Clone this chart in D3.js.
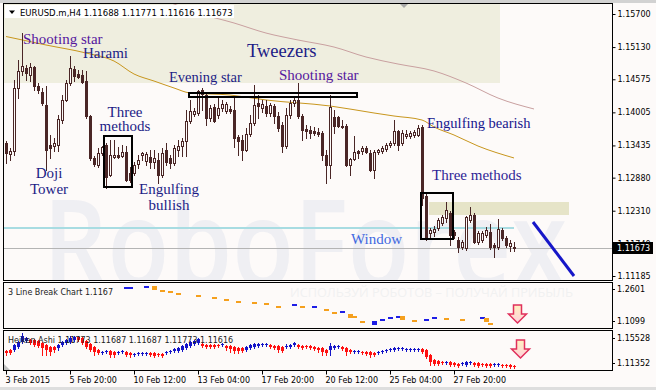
<!DOCTYPE html>
<html>
<head>
<meta charset="utf-8">
<script src="https://cdn.jsdelivr.net/npm/d3@7"></script>
<style>
body { margin: 0; background: #fdfaf9; }
svg { display: block; }
</style>
</head>
<body>
<svg id="chart" width="656" height="390"></svg>
<script>
// EURUSD.m H4 candles
var openP = [
1.13477,1.13287,1.13339,1.14425,1.14718,1.14770,1.14649,1.14787,1.14459,1.14356,
1.14132,1.13442,1.13425,1.13442,1.13873,1.14218,1.14511,1.14752,1.14666,1.14649,
1.14545,1.13942,1.13218,1.13098,1.13304,1.13442,1.12925,1.13235,1.13270,1.13253,
1.13322,1.12960,1.12960,1.13115,1.13270,1.13166,1.13235,1.13149,1.13184,1.12925,
1.13356,1.13218,1.13132,1.13356,1.13425,1.13511,1.13856,1.13977,1.13994,1.14390,
1.14304,1.13908,1.14097,1.13959,1.14080,1.14028,1.14063,1.14046,1.13580,1.13528,
1.13356,1.13632,1.13822,1.14166,1.14080,1.14115,1.13994,1.14115,1.13942,1.13787,
1.13425,1.13959,1.14166,1.14218,1.13942,1.13718,1.13701,1.13684,1.13666,1.13649,
1.13270,1.13098,1.13925,1.13925,1.13770,1.13770,1.13098,1.13201,1.13339,1.13339,
1.13391,1.13304,1.13011,1.13322,1.13339,1.13373,1.13442,1.13477,1.13684,1.13477,
1.13597,1.13597,1.13615,1.13615,1.13753,1.12563,1.11925,1.11942,1.12011,1.12098,
1.12184,1.12270,1.11942,1.11804,1.11684,1.11666,1.12149,1.12236,1.11770,1.11804,
1.11890,1.11942,1.11718,1.11684,1.11977,1.11839,1.11701,1.11688];
var highP = [
1.13511,1.13391,1.14563,1.14907,1.15372,1.14821,1.14855,1.14804,1.14511,1.14425,
1.14459,1.13615,1.13563,1.13959,1.14304,1.14563,1.14977,1.14804,1.14735,1.14735,
1.14718,1.13959,1.13253,1.13391,1.13425,1.13477,1.13528,1.13528,1.13408,1.13442,
1.13425,1.13063,1.13149,1.13270,1.13322,1.13322,1.13356,1.13356,1.13304,1.13391,
1.13477,1.13270,1.13442,1.13528,1.13563,1.14046,1.14218,1.14080,1.14390,1.14425,
1.14339,1.14132,1.14149,1.14252,1.14218,1.14184,1.14115,1.14252,1.13615,1.13615,
1.13735,1.13959,1.14477,1.14304,1.14218,1.14218,1.14166,1.14149,1.14011,1.13839,
1.14080,1.14218,1.14287,1.14511,1.13977,1.13787,1.13770,1.13753,1.13735,1.13684,
1.13356,1.14304,1.14046,1.13942,1.13873,1.13804,1.13218,1.13597,1.13356,1.13425,
1.13425,1.13356,1.13356,1.13373,1.13425,1.13477,1.13511,1.13873,1.13701,1.13701,
1.13701,1.13684,1.13701,1.13787,1.13787,1.12615,1.12011,1.12046,1.12184,1.12236,
1.12460,1.12305,1.11977,1.11856,1.11804,1.12218,1.12374,1.12270,1.11960,1.11960,
1.12029,1.12080,1.11753,1.12167,1.12011,1.11873,1.11804,1.11771];
var lowP = [
1.13132,1.13184,1.13270,1.14252,1.14649,1.14563,1.14545,1.14390,1.14339,1.14132,
1.13011,1.13218,1.13339,1.13339,1.13822,1.14201,1.14477,1.14545,1.14597,1.14511,
1.13908,1.13184,1.13080,1.13063,1.13270,1.12701,1.12908,1.13218,1.13218,1.13235,
1.12822,1.12804,1.12925,1.13046,1.13184,1.13098,1.13046,1.13046,1.12787,1.12891,
1.13098,1.13046,1.13098,1.13253,1.13253,1.13253,1.13822,1.13942,1.13959,1.14046,
1.13787,1.13856,1.13839,1.13908,1.14028,1.13994,1.13994,1.13408,1.13270,1.13184,
1.13339,1.13597,1.13787,1.13908,1.14011,1.13942,1.13942,1.13822,1.13684,1.13322,
1.13391,1.13908,1.14115,1.13908,1.13528,1.13563,1.13563,1.13615,1.13597,1.13184,
1.12787,1.12873,1.13649,1.13753,1.13735,1.13080,1.12925,1.13184,1.13218,1.13287,
1.13304,1.12994,1.12873,1.13287,1.13304,1.13339,1.13408,1.13442,1.13356,1.13442,
1.13563,1.13563,1.13580,1.13597,1.12408,1.11804,1.11839,1.11873,1.11977,1.12063,
1.12115,1.11718,1.11839,1.11597,1.11649,1.11632,1.12115,1.11753,1.11735,1.11770,
1.11856,1.11649,1.11511,1.11649,1.11804,1.11684,1.11615,1.11616];
var closeP = [
1.13304,1.13339,1.14425,1.14718,1.14804,1.14683,1.14787,1.14459,1.14390,1.14166,
1.13356,1.13391,1.13477,1.13890,1.14218,1.14511,1.14770,1.14632,1.14614,1.14528,
1.13942,1.13218,1.13115,1.13304,1.13408,1.12891,1.13270,1.13270,1.13235,1.13322,
1.12839,1.12839,1.13098,1.13184,1.13304,1.13287,1.13149,1.13218,1.12925,1.13304,
1.13149,1.13132,1.13391,1.13425,1.13511,1.13856,1.14028,1.14028,1.14373,1.14321,
1.13908,1.14080,1.13856,1.14080,1.14149,1.14149,1.14028,1.13563,1.13511,1.13356,
1.13632,1.13822,1.14132,1.14115,1.14149,1.13994,1.14132,1.13942,1.13735,1.13425,
1.13959,1.14166,1.14218,1.13942,1.13701,1.13684,1.13649,1.13649,1.13632,1.13270,
1.13098,1.14097,1.13770,1.13770,1.13753,1.13098,1.13201,1.13322,1.13304,1.13391,
1.13322,1.13011,1.13322,1.13356,1.13391,1.13442,1.13477,1.13684,1.13442,1.13649,
1.13632,1.13649,1.13666,1.13735,1.12529,1.11856,1.11977,1.11994,1.12149,1.12201,
1.12322,1.11890,1.11890,1.11684,1.11770,1.12201,1.12236,1.11770,1.11925,1.11925,
1.11977,1.11684,1.11684,1.11994,1.11839,1.11718,1.11753,1.11673];

// moving averages (bar index, value)
var maFastIdx = [0,10,20,27,32,37,42,46,56,65,81,92,97,104,107,112,118,127];
var maFast = [1.15312,1.15166,1.15028,1.14890,1.14666,1.14545,1.14425,1.14339,1.14304,
              1.14218,1.14115,1.13994,1.13942,1.13873,1.13753,1.13615,1.13425,1.13219];
var maSlowIdx = [39,48,57,65,73,82,90,98,107,115,123,132];
var maSlow = [1.15958,1.15717,1.15545,1.15372,1.15252,1.15131,1.14959,1.14838,1.14718,1.14511,1.14252,1.14063];

var priceTicks = [1.15700,1.15130,1.14575,1.14005,1.13435,1.12880,1.12310,1.11740,1.11185];
var timeTickIdx = [0,16,32,48,64,80,96,112];
var timeTickLabels = ["3 Feb 2015","5 Feb 20:00","10 Feb 12:00","13 Feb 04:00",
                      "17 Feb 20:00","20 Feb 12:00","25 Feb 04:00","27 Feb 20:00"];
var lastPrice = 1.11673;
var windowLevel = 1.12011;

// 3 Line Break bricks
var lbIdx = [30,31,35,37,39,41,43,48,52,55,58,62,65,68,72,74,77,80,82,84,86,87,89,92,94,96,98,99,102,105,107,110,114,119,120,121];
var lbOpen = [1.2396,1.2396,1.2430,1.2499,1.2362,1.2328,1.2260,1.2191,1.2123,1.2055,1.1986,1.1952,1.1918,1.1816,
              1.1816,1.1816,1.1747,1.1713,1.1611,1.1577,1.1543,1.1474,1.1304,1.1167,1.1304,1.1372,1.1406,1.1474,
              1.1338,1.1304,1.1372,1.1406,1.1372,1.1372,1.1406,1.1236];
var lbClose = [1.2464,1.2464,1.2499,1.2362,1.2294,1.2260,1.2191,1.2123,1.2055,1.1986,1.1918,1.1884,1.1850,1.1747,
               1.1884,1.1747,1.1816,1.1645,1.1543,1.1645,1.1406,1.1406,1.1236,1.1304,1.1372,1.1440,1.1474,1.1338,
               1.1270,1.1372,1.1440,1.1338,1.1304,1.1440,1.1270,1.1167];
var lbAxis = [1.2601, 1.1099];

// Heiken Ashi
var haOpen = [
1.1339,1.1349,1.1349,1.1382,1.1435,1.1446,1.1456,1.1456,1.1446,1.1424,
1.1403,1.1382,1.1382,1.1371,1.1403,1.1424,1.1435,1.1456,1.1489,1.1478,
1.1446,1.1414,1.1382,1.1349,1.1317,1.1328,1.1339,1.1328,1.1317,1.1328,
1.1328,1.1317,1.1296,1.1307,1.1307,1.1307,1.1317,1.1317,1.1307,1.1307,
1.1317,1.1328,1.1339,1.1339,1.1349,1.1371,1.1392,1.1414,1.1424,1.1414,
1.1403,1.1403,1.1403,1.1403,1.1403,1.1392,1.1392,1.1382,1.1371,1.1371,
1.1349,1.1371,1.1382,1.1392,1.1403,1.1403,1.1403,1.1392,1.1392,1.1382,
1.1382,1.1382,1.1403,1.1403,1.1392,1.1392,1.1392,1.1382,1.1371,1.1371,
1.1349,1.1349,1.1371,1.1382,1.1382,1.1371,1.1349,1.1328,1.1328,1.1328,
1.1328,1.1328,1.1317,1.1317,1.1328,1.1339,1.1349,1.1349,1.1360,1.1360,
1.1349,1.1349,1.1349,1.1349,1.1360,1.1349,1.1296,1.1242,1.1231,1.1221,
1.1210,1.1221,1.1210,1.1199,1.1199,1.1189,1.1210,1.1210,1.1210,1.1199,
1.1199,1.1199,1.1189,1.1189,1.1189,1.1189,1.1189,1.1178];
var haClose = [
1.1317,1.1317,1.1403,1.1435,1.1499,1.1478,1.1424,1.1403,1.1392,1.1371,
1.1349,1.1328,1.1349,1.1403,1.1435,1.1456,1.1478,1.1489,1.1456,1.1424,
1.1382,1.1349,1.1328,1.1317,1.1328,1.1339,1.1296,1.1296,1.1328,1.1339,
1.1296,1.1296,1.1307,1.1317,1.1317,1.1317,1.1296,1.1285,1.1296,1.1285,
1.1328,1.1339,1.1360,1.1371,1.1392,1.1414,1.1435,1.1446,1.1467,1.1392,
1.1382,1.1382,1.1382,1.1392,1.1414,1.1371,1.1360,1.1339,1.1339,1.1339,
1.1382,1.1403,1.1414,1.1414,1.1414,1.1414,1.1382,1.1371,1.1349,1.1339,
1.1392,1.1403,1.1424,1.1382,1.1371,1.1382,1.1371,1.1360,1.1349,1.1328,
1.1317,1.1392,1.1392,1.1392,1.1360,1.1328,1.1328,1.1339,1.1339,1.1317,
1.1307,1.1296,1.1296,1.1328,1.1339,1.1349,1.1360,1.1371,1.1371,1.1371,
1.1360,1.1360,1.1360,1.1360,1.1328,1.1274,1.1221,1.1199,1.1199,1.1210,
1.1221,1.1189,1.1189,1.1178,1.1210,1.1221,1.1221,1.1189,1.1178,1.1189,
1.1178,1.1178,1.1199,1.1199,1.1178,1.1178,1.1167,1.1167];
var haHigh = [
1.1349,1.1360,1.1414,1.1446,1.1531,1.1489,1.1467,1.1467,1.1456,1.1435,
1.1414,1.1392,1.1392,1.1414,1.1446,1.1467,1.1499,1.1499,1.1499,1.1489,
1.1456,1.1424,1.1392,1.1360,1.1339,1.1349,1.1349,1.1339,1.1339,1.1349,
1.1339,1.1328,1.1317,1.1328,1.1328,1.1328,1.1328,1.1328,1.1317,1.1317,
1.1339,1.1349,1.1371,1.1382,1.1403,1.1424,1.1446,1.1456,1.1478,1.1424,
1.1414,1.1414,1.1414,1.1414,1.1424,1.1403,1.1403,1.1392,1.1382,1.1382,
1.1392,1.1414,1.1424,1.1424,1.1424,1.1424,1.1414,1.1403,1.1403,1.1392,
1.1414,1.1414,1.1435,1.1414,1.1403,1.1403,1.1403,1.1392,1.1382,1.1382,
1.1360,1.1424,1.1403,1.1403,1.1392,1.1382,1.1360,1.1349,1.1349,1.1339,
1.1339,1.1339,1.1328,1.1339,1.1349,1.1360,1.1371,1.1382,1.1382,1.1382,
1.1371,1.1371,1.1371,1.1371,1.1371,1.1360,1.1307,1.1253,1.1242,1.1231,
1.1231,1.1231,1.1221,1.1210,1.1221,1.1231,1.1231,1.1221,1.1221,1.1210,
1.1210,1.1210,1.1210,1.1210,1.1199,1.1199,1.1199,1.1189];
var haLow = [
1.1296,1.1307,1.1339,1.1371,1.1424,1.1435,1.1414,1.1392,1.1382,1.1296,
1.1296,1.1296,1.1328,1.1349,1.1392,1.1414,1.1424,1.1446,1.1446,1.1414,
1.1371,1.1339,1.1296,1.1307,1.1307,1.1317,1.1274,1.1274,1.1307,1.1317,
1.1285,1.1274,1.1285,1.1296,1.1296,1.1296,1.1285,1.1274,1.1285,1.1274,
1.1307,1.1317,1.1328,1.1328,1.1339,1.1360,1.1382,1.1403,1.1414,1.1382,
1.1371,1.1371,1.1371,1.1382,1.1392,1.1349,1.1328,1.1317,1.1317,1.1328,
1.1339,1.1360,1.1371,1.1382,1.1392,1.1392,1.1371,1.1360,1.1328,1.1328,
1.1371,1.1371,1.1392,1.1371,1.1360,1.1371,1.1360,1.1349,1.1328,1.1296,
1.1296,1.1296,1.1360,1.1371,1.1349,1.1296,1.1317,1.1317,1.1317,1.1307,
1.1296,1.1274,1.1285,1.1307,1.1317,1.1328,1.1339,1.1339,1.1349,1.1349,
1.1339,1.1339,1.1339,1.1339,1.1317,1.1264,1.1189,1.1189,1.1189,1.1199,
1.1199,1.1178,1.1178,1.1167,1.1189,1.1178,1.1199,1.1178,1.1167,1.1178,
1.1167,1.1167,1.1178,1.1178,1.1167,1.1167,1.1157,1.1157];
var haAxis = [1.15528, 1.11352];

// ---------------------------------------------------------------
var BG = "#fdfaf9";
var CANDLE = "#4a2626";
var NAVY = "#1c1c86";
var PURPLE = "#55169e";
var AXIS_FONT = "'DejaVu Sans', sans-serif";
var SERIF = "'Liberation Serif', 'Times New Roman', serif";

var svg = d3.select("#chart");

var x = d3.scaleLinear().domain([0, 127]).range([6, 514]);
var y = d3.scaleLinear().domain([1.11185, 1.15700]).range([276, 14]);
var yLB = d3.scaleLinear().domain([1.1099, 1.2601]).range([327, 283]);
var yHA = d3.scaleLinear().domain([1.11352, 1.15528]).range([370, 331]);

function px(v) { return Math.round(v); }

// 背景与边框
svg.append("rect").attr("width", 656).attr("height", 390).attr("fill", BG);
svg.append("rect").attr("width", 656).attr("height", 3).attr("fill", "#d2d2d2");
svg.append("rect").attr("y", 387).attr("width", 656).attr("height", 3).attr("fill", "#dedede");

var defs = svg.append("defs");
function gb_clip(id, x0, y0, w, h) {
	defs.append("clipPath").attr("id", id)
		.append("rect").attr("x", x0).attr("y", y0).attr("width", w).attr("height", h);
}
gb_clip("clipMain", 4, 4, 608, 276);
gb_clip("clipLB", 4, 283, 608, 45);
gb_clip("clipHA", 4, 331, 608, 39);

var grad = defs.append("linearGradient").attr("id", "arrowFill")
	.attr("x1", 0).attr("y1", 0).attr("x2", 0).attr("y2", 1);
grad.append("stop").attr("offset", "0%").attr("stop-color", "#fff0c0");
grad.append("stop").attr("offset", "100%").attr("stop-color", "#ffd0dc");

var main = svg.append("g").attr("clip-path", "url(#clipMain)");

// shaded zones
var zones = [
	{ i0: -1, i1: 123.5, p0: 1.1600, p1: 1.14511, fill: "#efeedf" },
	{ i0: 105.75, i1: 140.75, p0: 1.12461, p1: 1.12237, fill: "#e6e4c8" }
];
main.selectAll("rect.zone").data(zones).enter().append("rect")
	.attr("class", "zone")
	.attr("x", function (d) { return px(x(d.i0)); })
	.attr("y", function (d) { return px(y(d.p0)); })
	.attr("width", function (d) { return px(x(d.i1)) - px(x(d.i0)); })
	.attr("height", function (d) { return px(y(d.p1)) - px(y(d.p0)); })
	.attr("fill", function (d) { return d.fill; });

// watermark
main.append("text")
	.attr("x", 43).attr("y", 288)
	.attr("font-family", "'Open Sans', sans-serif")
	.attr("font-weight", 600)
	.attr("font-size", 123)
	.attr("textLength", 524).attr("lengthAdjust", "spacingAndGlyphs")
	.attr("fill", "#efeff3")
	.text("RoboForex");

// moving averages
var lineGen = d3.line()
	.x(function (d) { return x(d.i); })
	.y(function (d) { return y(d.v); })
	.curve(d3.curveMonotoneX);
var slowPts = maSlowIdx.map(function (d, k) { return { i: d, v: maSlow[k] }; });
var fastPts = maFastIdx.map(function (d, k) { return { i: d, v: maFast[k] }; });
main.append("path").attr("d", lineGen(slowPts))
	.attr("fill", "none").attr("stroke", "#c9a0a0").attr("stroke-width", 1);
main.append("path").attr("d", lineGen(fastPts))
	.attr("fill", "none").attr("stroke", "#c8961e").attr("stroke-width", 1);

// current price line and window level
main.append("line")
	.attr("x1", 4).attr("x2", 612)
	.attr("y1", px(y(lastPrice)) + 0.5).attr("y2", px(y(lastPrice)) + 0.5)
	.attr("stroke", "#b4b4b4").attr("stroke-width", 1);
main.append("line")
	.attr("x1", 4).attr("x2", x(127))
	.attr("y1", px(y(windowLevel))).attr("y2", px(y(windowLevel)))
	.attr("stroke", "#a8dce2").attr("stroke-width", 2);

// 蜡烛
var candles = d3.range(openP.length).map(function (i) {
	return { i: i, o: openP[i], h: highP[i], l: lowP[i], c: closeP[i] };
});
var gC = main.append("g");
gC.selectAll("line").data(candles).enter().append("line")
	.attr("x1", function (d) { return px(x(d.i)) + 0.5; })
	.attr("x2", function (d) { return px(x(d.i)) + 0.5; })
	.attr("y1", function (d) { return px(y(d.h)); })
	.attr("y2", function (d) { return px(y(d.l)) + 1; })
	.attr("stroke", CANDLE).attr("stroke-width", 1);
gC.selectAll("rect").data(candles).enter().append("rect")
	.attr("x", function (d) {
		return d.c > d.o ? px(x(d.i)) - 0.5 : px(x(d.i)) - 1;
	})
	.attr("y", function (d) {
		var top = px(y(Math.max(d.o, d.c)));
		return d.c > d.o ? top + 0.5 : top;
	})
	.attr("width", function (d) { return d.c > d.o ? 2 : 3; })
	.attr("height", function (d) {
		var h = px(y(Math.min(d.o, d.c))) - px(y(Math.max(d.o, d.c)));
		return d.c > d.o ? Math.max(1, h) : Math.max(1, h + 1);
	})
	.attr("fill", function (d) { return d.c > d.o ? BG : CANDLE; })
	.attr("stroke", function (d) { return d.c > d.o ? CANDLE : "none"; })
	.attr("stroke-width", 1);

// pattern boxes
var boxes = [
	{ i0: 24.5, i1: 31.5, p0: 1.13597, p1: 1.12713 },
	{ i0: 45.75, i1: 87.75, p0: 1.14339, p1: 1.14270 },
	{ i0: 103.75, i1: 111.75, p0: 1.12615, p1: 1.11821 }
];
main.selectAll("rect.box").data(boxes).enter().append("rect")
	.attr("class", "box")
	.attr("x", function (d) { return px(x(d.i0)); })
	.attr("y", function (d) { return px(y(d.p0)); })
	.attr("width", function (d) { return px(x(d.i1)) - px(x(d.i0)); })
	.attr("height", function (d) { return px(y(d.p1)) - px(y(d.p0)); })
	.attr("fill", "none").attr("stroke", "#000").attr("stroke-width", 2);

// trend line
var trend = [{ i: 131.75, v: 1.12116 }, { i: 142, v: 1.11185 }];
main.append("line")
	.attr("x1", x(trend[0].i)).attr("y1", y(trend[0].v))
	.attr("x2", x(trend[1].i)).attr("y2", y(trend[1].v))
	.attr("stroke", "#1616c8").attr("stroke-width", 3);

// annotations
var notes = [
	{ t: "Shooting star", x: 23, y: 44, s: 15, c: PURPLE },
	{ t: "Harami", x: 83, y: 58, s: 15, c: NAVY },
	{ t: "Three", x: 125, y: 117, s: 15, c: NAVY, a: "middle" },
	{ t: "methods", x: 125, y: 131, s: 15, c: NAVY, a: "middle" },
	{ t: "Doji", x: 49, y: 178, s: 15, c: NAVY, a: "middle" },
	{ t: "Tower", x: 49, y: 194, s: 15, c: NAVY, a: "middle" },
	{ t: "Engulfing", x: 169, y: 194, s: 15, c: NAVY, a: "middle" },
	{ t: "bullish", x: 169, y: 210, s: 15, c: NAVY, a: "middle" },
	{ t: "Evening star", x: 169, y: 82, s: 14.5, c: NAVY },
	{ t: "Tweezers", x: 247, y: 57, s: 18.5, c: NAVY },
	{ t: "Shooting star", x: 279, y: 80, s: 15, c: PURPLE },
	{ t: "Engulfing bearish", x: 427, y: 128, s: 14.5, c: "#16168e" },
	{ t: "Three methods", x: 432, y: 180, s: 15, c: "#2e1f96" },
	{ t: "Window", x: 351, y: 244, s: 15, c: "#4169e1" }
];
main.selectAll("text.note").data(notes).enter().append("text")
	.attr("class", "note")
	.attr("x", function (d) { return d.x; })
	.attr("y", function (d) { return d.y; })
	.attr("text-anchor", function (d) { return d.a || "start"; })
	.attr("font-family", SERIF)
	.attr("font-size", function (d) { return d.s; })
	.attr("fill", function (d) { return d.c; })
	.text(function (d) { return d.t; });

// header
svg.append("rect").attr("x", 5).attr("y", 5).attr("width", 229).attr("height", 13).attr("fill", "#fff");
svg.append("path").attr("d", "M9,10.5 L15,10.5 L12,14 Z").attr("fill", "#000");
svg.append("text").attr("x", 20).attr("y", 15.5)
	.attr("font-family", AXIS_FONT).attr("font-size", 8.5).attr("fill", "#000")
	.text("EURUSD.m,H4  1.11688 1.11771 1.11616 1.11673");
svg.append("path").attr("d", "M400,4 L408,4 L404,8 Z").attr("fill", "#a8a8a8");

// 3 Line Break panel
var gLB = svg.append("g").attr("clip-path", "url(#clipLB)");
gLB.append("text")
	.attr("x", 290).attr("y", 297)
	.attr("font-family", "'Open Sans', sans-serif").attr("font-size", 13)
	.attr("textLength", 283).attr("lengthAdjust", "spacingAndGlyphs")
	.attr("fill", "#f1f1f1")
	.text("ИСПОЛЬЗУЙ РОБОТОВ – ПОЛУЧАЙ ПРИБЫЛЬ");
var bricks = lbIdx.map(function (d, k) { return { i: d, o: lbOpen[k], c: lbClose[k] }; });
gLB.selectAll("rect").data(bricks).enter().append("rect")
	.attr("x", function (d) { return px(x(d.i)) - 2; })
	.attr("width", 5)
	.attr("y", function (d) { return px(yLB(Math.max(d.o, d.c))); })
	.attr("height", function (d) {
		return Math.max(2, px(yLB(Math.min(d.o, d.c))) - px(yLB(Math.max(d.o, d.c))));
	})
	.attr("fill", function (d) { return d.c > d.o ? "#1e1ee6" : "#f5a01e"; });
gLB.append("text").attr("x", 8).attr("y", 295)
	.attr("font-family", AXIS_FONT).attr("font-size", 8).attr("fill", "#222")
	.text("3 Line Break Chart 1.1167");

// Heiken Ashi panel
var gHA = svg.append("g").attr("clip-path", "url(#clipHA)");
var ha = d3.range(haOpen.length).map(function (i) {
	return { i: i, o: haOpen[i], c: haClose[i], h: haHigh[i], l: haLow[i] };
});
function haCol(d) { return d.c > d.o ? "#1414c8" : "#ff1010"; }
gHA.selectAll("line").data(ha).enter().append("line")
	.attr("x1", function (d) { return px(x(d.i)) + 0.5; })
	.attr("x2", function (d) { return px(x(d.i)) + 0.5; })
	.attr("y1", function (d) { return px(yHA(d.h)); })
	.attr("y2", function (d) { return px(yHA(d.l)) + 1; })
	.attr("stroke", haCol).attr("stroke-width", 1);
gHA.selectAll("rect").data(ha).enter().append("rect")
	.attr("x", function (d) { return px(x(d.i)) - 1; })
	.attr("width", 3)
	.attr("y", function (d) { return px(yHA(Math.max(d.o, d.c))); })
	.attr("height", function (d) {
		return Math.max(1, px(yHA(Math.min(d.o, d.c))) - px(yHA(Math.max(d.o, d.c))));
	})
	.attr("fill", haCol);
gHA.append("text").attr("x", 8).attr("y", 343)
	.attr("font-family", AXIS_FONT).attr("font-size", 8).attr("fill", "#222")
	.text("Heiken Ashi 1.11773 1.11687 1.11687 1.11773 1.11616");
svg.append("path").attr("d", "M4,364 L4,370 L10,370 Z").attr("fill", "#c0c0c0");

// signal arrows
function gb_arrow(cx, top) {
	var p = "M" + (cx - 4) + "," + top + " L" + (cx + 4) + "," + top +
		" L" + (cx + 4) + "," + (top + 9) + " L" + (cx + 9) + "," + (top + 9) +
		" L" + cx + "," + (top + 18) + " L" + (cx - 9) + "," + (top + 9) +
		" L" + (cx - 4) + "," + (top + 9) + " Z";
	svg.append("path").attr("d", p)
		.attr("fill", "url(#arrowFill)").attr("stroke", "#e0305c").attr("stroke-width", 1.5);
}
gb_arrow(517.5, 305);
gb_arrow(520.5, 340);

// panel frames
var frames = [[3.5, 3.5, 609, 277], [3.5, 282.5, 609, 46], [3.5, 330.5, 609, 40]];
svg.selectAll("rect.frame").data(frames).enter().append("rect")
	.attr("class", "frame")
	.attr("x", function (d) { return d[0]; }).attr("y", function (d) { return d[1]; })
	.attr("width", function (d) { return d[2]; }).attr("height", function (d) { return d[3]; })
	.attr("fill", "none").attr("stroke", "#000").attr("stroke-width", 1);

// price axis
var yAxis = svg.append("g").attr("transform", "translate(612.5,0)")
	.call(d3.axisRight(y).tickValues(priceTicks).tickSize(3).tickPadding(2)
		.tickFormat(d3.format(".5f")));
yAxis.select(".domain").remove();
yAxis.selectAll("text").attr("font-family", AXIS_FONT).attr("font-size", 8).attr("fill", "#000");
yAxis.selectAll("line").attr("stroke", "#000");

// sub panel axes
var subLabels = [
	{ t: d3.format(".4f")(lbAxis[0]), y: 292 }, { t: d3.format(".4f")(lbAxis[1]), y: 324 },
	{ t: d3.format(".5f")(haAxis[0]), y: 341 }, { t: d3.format(".5f")(haAxis[1]), y: 366 }
];
svg.selectAll("text.sub").data(subLabels).enter().append("text")
	.attr("class", "sub")
	.attr("x", 617).attr("y", function (d) { return d.y; })
	.attr("font-family", AXIS_FONT).attr("font-size", 8).attr("fill", "#000")
	.text(function (d) { return d.t; });
svg.selectAll("line.subtick").data(subLabels).enter().append("line")
	.attr("class", "subtick")
	.attr("x1", 612).attr("x2", 615)
	.attr("y1", function (d) { return d.y - 2.5; }).attr("y2", function (d) { return d.y - 2.5; })
	.attr("stroke", "#000");

// current price label
var lp = px(y(lastPrice));
svg.append("rect").attr("x", 612).attr("y", lp - 6).attr("width", 41).attr("height", 12).attr("fill", "#000");
svg.append("text").attr("x", 617).attr("y", lp + 3)
	.attr("font-family", AXIS_FONT).attr("font-size", 8).attr("fill", "#fff")
	.text(d3.format(".5f")(lastPrice));

// time axis
var xAxis = svg.append("g").attr("transform", "translate(0,370.5)")
	.call(d3.axisBottom(x).tickValues(timeTickIdx).tickSize(4).tickPadding(3)
		.tickFormat(function (d, i) { return timeTickLabels[i]; }));
xAxis.select(".domain").remove();
xAxis.selectAll("line").attr("stroke", "#000");
xAxis.selectAll("text").attr("font-family", AXIS_FONT).attr("font-size", 8)
	.attr("fill", "#000").attr("text-anchor", "start").attr("x", -1);
</script>
</body>
</html>
